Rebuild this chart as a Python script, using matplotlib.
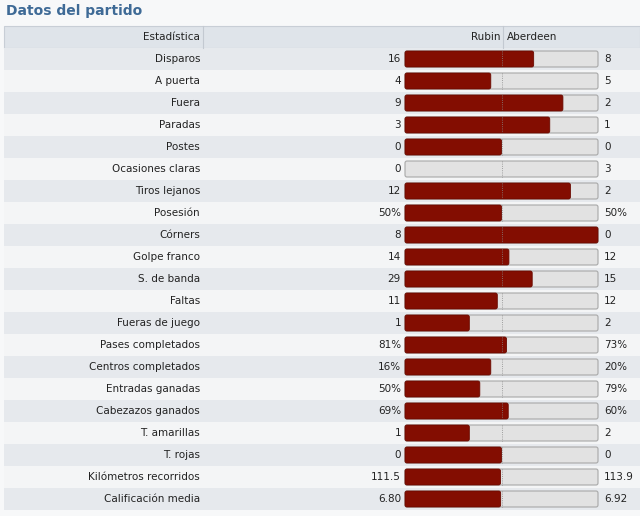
import matplotlib
matplotlib.use("Agg")
import matplotlib.pyplot as plt
from matplotlib.patches import FancyBboxPatch, Rectangle

stats = ["Disparos", "A puerta", "Fuera", "Paradas", "Postes", "Ocasiones claras",
         "Tiros lejanos", "Posesión", "Córners", "Golpe franco", "S. de banda", "Faltas",
         "Fueras de juego", "Pases completados", "Centros completados", "Entradas ganadas",
         "Cabezazos ganados", "T. amarillas", "T. rojas", "Kilómetros recorridos",
         "Calificación media"]
home_vals = [16, 4, 9, 3, 0, 0, 12, 50, 8, 14, 29, 11, 1, 81, 16, 50, 69, 1, 0, 111.5, 6.80]
away_vals = [8, 5, 2, 1, 0, 3, 2, 50, 0, 12, 15, 12, 2, 73, 20, 79, 60, 2, 0, 113.9, 6.92]
home_labels = ["16", "4", "9", "3", "0", "0", "12", "50%", "8", "14", "29", "11", "1",
               "81%", "16%", "50%", "69%", "1", "0", "111.5", "6.80"]
away_labels = ["8", "5", "2", "1", "0", "3", "2", "50%", "0", "12", "15", "12", "2",
               "73%", "20%", "79%", "60%", "2", "0", "113.9", "6.92"]
home_team = "Rubin"
away_team = "Aberdeen"
title = "Datos del partido"
header = "Estadística"

fig = plt.figure(figsize=(6.4, 5.16), dpi=100)
fig.patch.set_facecolor("#f7f8f9")
ax = fig.add_axes([0, 0, 1, 1])
ax.set_xlim(0, 640)
ax.set_ylim(516, 0)
ax.axis("off")

font = "DejaVu Sans"
ax.text(6, 11, title, fontsize=10, color="#3e6a96", fontweight="bold", va="center", family=font)

# header
ax.add_patch(Rectangle((4, 26), 636, 22, facecolor="#dfe4ea", edgecolor="#c8ced6", lw=0.8))
ax.plot([203, 203], [26, 48], color="#c3c9d1", lw=0.8)
ax.plot([503, 503], [26, 48], color="#c3c9d1", lw=0.8)
ax.text(200, 37, header, ha="right", va="center", fontsize=7.5, color="#222", family=font)
ax.text(500, 37, home_team, ha="right", va="center", fontsize=7.5, color="#222", family=font)
ax.text(507, 37, away_team, ha="left", va="center", fontsize=7.5, color="#222", family=font)

x0, x1 = 405, 598
bw = x1 - x0
rh = 22
for i, (s, h, a, hl, al) in enumerate(zip(stats, home_vals, away_vals, home_labels, away_labels)):
    top = 48 + i * rh
    yc = top + rh / 2
    bg = "#e6e9ed" if i % 2 == 0 else "#f4f5f6"
    ax.add_patch(Rectangle((4, top), 636, rh, facecolor=bg, edgecolor="none"))
    ax.text(200, yc, s, ha="right", va="center", fontsize=7.5, color="#222", family=font)
    ax.text(401, yc, hl, ha="right", va="center", fontsize=7.5, color="#222", family=font)
    ax.text(604, yc, al, ha="left", va="center", fontsize=7.5, color="#222", family=font)
    tot = h + a
    frac = 0.5 if tot == 0 else h / tot
    ax.add_patch(FancyBboxPatch((x0, top + 3), bw, rh - 6, boxstyle="round,pad=0,rounding_size=2",
                                facecolor="#e2e2e2", edgecolor="#a8a8a8", lw=0.8))
    if frac > 0:
        ax.add_patch(FancyBboxPatch((x0, top + 3), bw * frac, rh - 6,
                                    boxstyle="round,pad=0,rounding_size=2",
                                    facecolor="#830d01", edgecolor="#6a0a00", lw=0.6))
    ax.plot([x0 + bw / 2, x0 + bw / 2], [top + 3, top + rh - 3], color="#888", lw=0.6, ls=":")

fig.savefig("out.png", dpi=100, facecolor=fig.get_facecolor())
